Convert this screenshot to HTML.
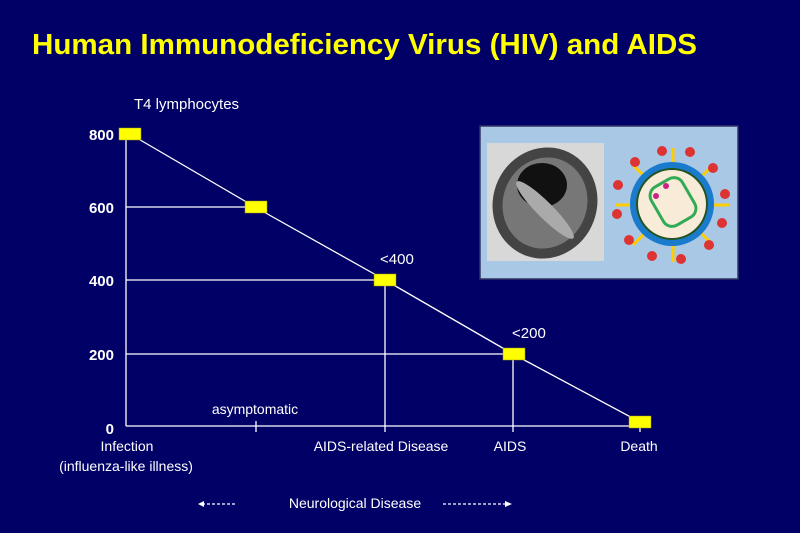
<!DOCTYPE html>
<html><head><style>
html,body{margin:0;padding:0;background:#000066;}
svg{display:block;}
text{font-family:"Liberation Sans",Arial,sans-serif;}
</style></head><body>
<svg width="800" height="533" viewBox="0 0 800 533" xmlns="http://www.w3.org/2000/svg">
<rect width="800" height="533" fill="#000066"/>
<text x="32" y="54" fill="#ffff00" font-size="29" font-weight="bold" textLength="665" lengthAdjust="spacingAndGlyphs">Human Immunodeficiency Virus (HIV) and AIDS</text>
<text x="134" y="109" fill="#fff" font-size="15">T4 lymphocytes</text>
<g fill="#fff" font-size="15" font-weight="bold" text-anchor="end">
<text x="114" y="140">800</text><text x="114" y="213">600</text><text x="114" y="286">400</text><text x="114" y="360">200</text><text x="114" y="434">0</text>
</g>
<g stroke="#fff" stroke-width="1.3" fill="none">
<line x1="126" y1="128" x2="126" y2="426"/>
<line x1="126" y1="426" x2="645" y2="426"/>
<line x1="126" y1="207" x2="255" y2="207"/>
<line x1="126" y1="280" x2="385" y2="280"/>
<line x1="126" y1="354" x2="513" y2="354"/>
<line x1="385" y1="280" x2="385" y2="432"/>
<line x1="513" y1="354" x2="513" y2="432"/>
<line x1="256" y1="421" x2="256" y2="432"/>
<line x1="640" y1="421" x2="640" y2="432"/>
<polyline points="130,134 255,207 385,280 513,354 640,422"/>
</g>
<g fill="#ffff00" stroke="#999900" stroke-width="0.5">
<rect x="119" y="128" width="22" height="12"/>
<rect x="245" y="201" width="22" height="12"/>
<rect x="374" y="274" width="22" height="12"/>
<rect x="503" y="348" width="22" height="12"/>
<rect x="629" y="416" width="22" height="12"/>
</g>
<g fill="#fff" font-size="15">
<text x="380" y="264">&lt;400</text>
<text x="512" y="338">&lt;200</text>
</g>
<g fill="#fff" font-size="14" text-anchor="middle">
<text x="255" y="414">asymptomatic</text>
<text x="127" y="451">Infection</text>
<text x="126" y="471">(influenza-like illness)</text>
<text x="381" y="451">AIDS-related Disease</text>
<text x="510" y="451">AIDS</text>
<text x="639" y="451">Death</text>
<text x="355" y="508">Neurological Disease</text>
</g>
<g stroke="#fff" stroke-width="1.2" stroke-dasharray="3,2">
<line x1="202" y1="504" x2="236" y2="504"/>
<line x1="443" y1="504" x2="506" y2="504"/>
</g>
<polygon points="198,504 204,501 204,507" fill="#fff"/>
<polygon points="512,504 505,501 505,507" fill="#fff"/>
<rect x="480" y="126" width="258" height="153" fill="#a8c8e6" stroke="#333366" stroke-width="1.5"/>
<rect x="487" y="143" width="117" height="118" fill="#d8d8d8"/>
<ellipse cx="545" cy="203" rx="52" ry="56" fill="#444" transform="rotate(20 545 203)"/>
<ellipse cx="545" cy="203" rx="42" ry="46" fill="#777" transform="rotate(20 545 203)"/>
<ellipse cx="542" cy="185" rx="25" ry="22" fill="#111"/>
<ellipse cx="545" cy="210" rx="8" ry="40" fill="#aaa" transform="rotate(-45 545 210)"/>
<g stroke="#ffcc00" stroke-width="3">
<line x1="673" y1="205" x2="673" y2="148"/><line x1="673" y1="205" x2="673" y2="262"/>
<line x1="673" y1="205" x2="616" y2="205"/><line x1="673" y1="205" x2="730" y2="205"/>
<line x1="673" y1="205" x2="633" y2="165"/><line x1="673" y1="205" x2="713" y2="245"/>
<line x1="673" y1="205" x2="713" y2="165"/><line x1="673" y1="205" x2="633" y2="245"/>
</g>
<g fill="#dd3333">
<circle cx="662" cy="151" r="5"/><circle cx="690" cy="152" r="5"/><circle cx="635" cy="162" r="5"/><circle cx="713" cy="168" r="5"/>
<circle cx="618" cy="185" r="5"/><circle cx="725" cy="194" r="5"/><circle cx="617" cy="214" r="5"/><circle cx="722" cy="223" r="5"/>
<circle cx="629" cy="240" r="5"/><circle cx="709" cy="245" r="5"/><circle cx="652" cy="256" r="5"/><circle cx="681" cy="259" r="5"/>
</g>
<circle cx="672" cy="204" r="42" fill="#1a7acc"/>
<circle cx="672" cy="204" r="36" fill="#225522"/>
<circle cx="672" cy="204" r="34" fill="#f8ecd8"/>
<rect x="655" y="180" width="36" height="44" rx="10" fill="none" stroke="#33aa55" stroke-width="3" transform="rotate(-30 673 202)"/>
<circle cx="666" cy="186" r="3" fill="#cc2288"/><circle cx="656" cy="196" r="3" fill="#cc2288"/>
</svg>
</body></html>
